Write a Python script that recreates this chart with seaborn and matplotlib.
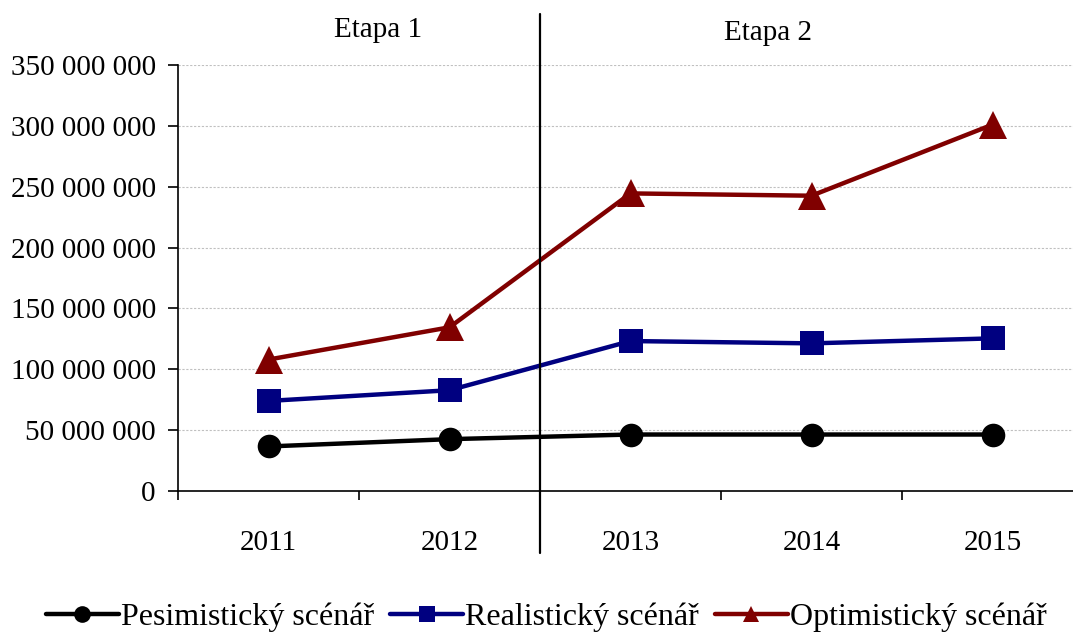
import pandas as pd
import numpy as np
import matplotlib
matplotlib.use("Agg")
import matplotlib.pyplot as plt
import matplotlib.transforms as mtransforms
from matplotlib.lines import Line2D
from matplotlib.ticker import FuncFormatter, FixedLocator
import seaborn as sns


# ---------------------------
# DATA
# ---------------------------
years = ['2011', '2012', '2013', '2014', '2015']
pesimisticky = [36.6e6, 42.6e6, 46.4e6, 46.4e6, 46.4e6]
realisticky = [74.0e6, 82.8e6, 123.2e6, 121.3e6, 125.4e6]
optimisticky = [108.0e6, 134.5e6, 244.5e6, 242.6e6, 301.0e6]

series_names = ['Pesimistický scénář', 'Realistický scénář', 'Optimistický scénář']
series_values = [pesimisticky, realisticky, optimisticky]
series_colors = ['#000000', '#000080', '#800000']
series_markers = ['o', 's', '^']

stage_labels = ['Etapa 1', 'Etapa 2']


# ---------------------------
# FIGURE
# ---------------------------
sns.set_style('white')
plt.rcParams['font.family'] = ['Liberation Serif', 'DejaVu Serif']
plt.rcParams['text.color'] = 'black'
plt.rcParams['xtick.color'] = 'black'
plt.rcParams['ytick.color'] = 'black'

fig = plt.figure(figsize=(10.73, 6.35), dpi=100)
ax = fig.add_axes([178 / 1073, 1 - 491 / 635, 905 / 1073, 426 / 635])

for name, vals, col, mk in zip(series_names, series_values, series_colors, series_markers):
    df = pd.DataFrame({'rok': years, 'hodnota': vals})
    sns.lineplot(data=df, x='rok', y='hodnota', ax=ax, color=col, marker=mk,
                 markersize=17 if mk != '^' else 20, markeredgewidth=0,
                 linewidth=3.2, legend=False, sort=False)

ax.set_xlim(-0.5, len(years) - 0.5)
ax.set_ylim(0, 350e6)
ax.set_yticks(np.arange(0, 350e6 + 1, 50e6))
ax.yaxis.set_major_formatter(FuncFormatter(lambda v, p: f"{v:,.0f}".replace(',', ' ')))
ax.set_xlabel('')
ax.set_ylabel('')

# grid
ax.yaxis.grid(True, color='#c0c0c0', linestyle=(0, (2, 1.5)), linewidth=0.8)
ax.xaxis.grid(False)
ax.set_axisbelow(True)

# spines
for s in ['top', 'right']:
    ax.spines[s].set_visible(False)
for s in ['left', 'bottom']:
    ax.spines[s].set_color('black')
    ax.spines[s].set_linewidth(1.2)

# ticks
ax.tick_params(axis='y', which='major', direction='out', length=7, width=1.2,
               color='black', labelcolor='black', labelsize=21, pad=9, left=True)
ax.tick_params(axis='x', which='major', length=0, labelsize=21, labelcolor='black', pad=28)
ax.xaxis.set_minor_locator(FixedLocator(np.arange(-0.5, len(years), 1.0)))
ax.tick_params(axis='x', which='minor', direction='out', length=6.5, width=1.2,
               color='black', bottom=True)

# stage divider
trans = mtransforms.blended_transform_factory(ax.transData, ax.transAxes)
ax.plot([1.5, 1.5], [(491 - 553) / 426, (491 - 14) / 426], transform=trans,
        color='black', linewidth=1.6, clip_on=False, zorder=5)

fig.text(378 / 1073, 1 - 30 / 635, stage_labels[0], ha='center', va='center',
         fontsize=21, color='black')
fig.text(768 / 1073, 1 - 33 / 635, stage_labels[1], ha='center', va='center',
         fontsize=21, color='black')

# legend
handles = [Line2D([], [], color=c, marker=m, markersize=12, markeredgewidth=0, linewidth=3.2)
           for c, m in zip(series_colors, series_markers)]
leg = fig.legend(handles, series_names, loc='center', bbox_to_anchor=(546 / 1073, 1 - 617 / 635),
                 ncol=3, frameon=False, fontsize=23, handlelength=2.3, handletextpad=0.05,
                 columnspacing=0.5)
for t in leg.get_texts():
    t.set_color('black')

fig.savefig('out.png', dpi=100)
plt.close(fig)
